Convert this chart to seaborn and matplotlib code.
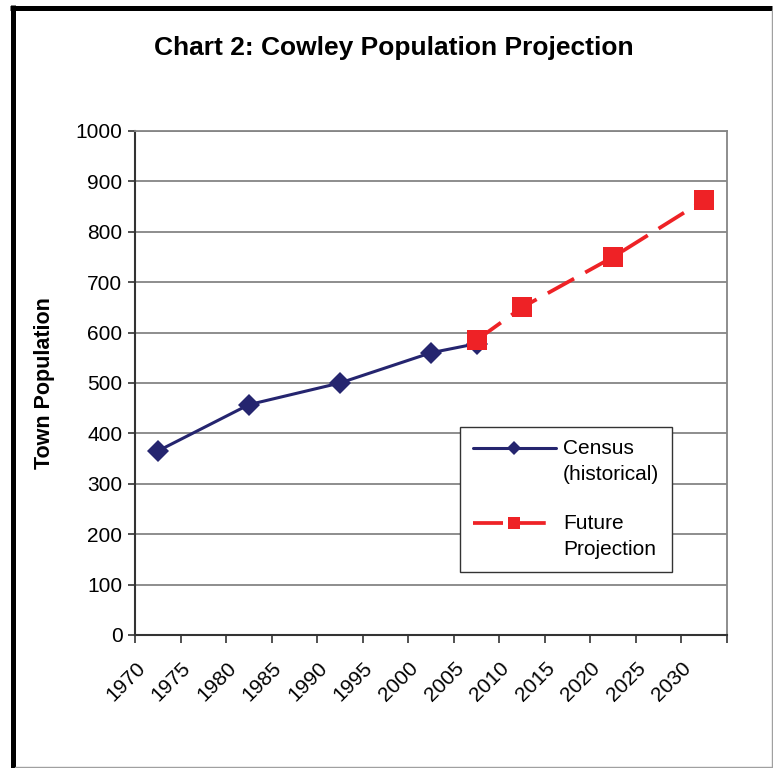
import matplotlib
matplotlib.use('Agg')
import matplotlib.pyplot as plt
import seaborn as sns
import pandas as pd
from matplotlib.lines import Line2D
from matplotlib.legend_handler import HandlerLine2D
from matplotlib.transforms import ScaledTranslation

# Data
years = list(range(1970, 2031, 5))
census_years = [1970, 1980, 1990, 2000, 2005]
census_pop = [365, 457, 500, 560, 578]
future_years = [2005, 2010, 2020, 2030]
future_pop = [585, 650, 750, 863]

census = pd.DataFrame({'Year': census_years, 'Population': census_pop})
future = pd.DataFrame({'Year': future_years, 'Population': future_pop})

sns.set_theme(style='white')
plt.rcParams['font.family'] = ['Liberation Sans', 'DejaVu Sans']
plt.rcParams['text.color'] = 'black'


class RaisedLine(HandlerLine2D):
    # put the legend sample level with the first line of a two-line label
    def create_artists(self, legend, orig_handle, xdescent, ydescent,
                       width, height, fontsize, trans):
        artists = super().create_artists(legend, orig_handle, xdescent,
                                         ydescent, width, height, fontsize,
                                         trans)
        for a in artists:
            a.set_ydata([y + 10 for y in a.get_ydata()])
        return artists


W, H = 773, 768
fig = plt.figure(figsize=(W / 100, H / 100), dpi=100)
ax = fig.add_axes([135 / W, 133 / H, 592 / W, 504 / H])

navy = '#25256F'
red = '#EE2226'

sns.lineplot(data=census, x='Year', y='Population', ax=ax, color=navy,
             linewidth=2.2, marker='D', markersize=11.2, markeredgewidth=0,
             label='Census\n(historical)', zorder=3)
sns.lineplot(data=future, x='Year', y='Population', ax=ax, color=red,
             linewidth=2.7, linestyle=(0, (8, 3.4)), marker='s',
             markersize=14.4, markeredgewidth=0,
             label='Future\nProjection', zorder=4)

# Axes styling
ax.set_ylim(0, 1000)
ax.set_yticks(range(0, 1001, 100))
ax.set_xlim(1967.5, 2032.5)
ax.set_xticks(years)
ax.set_xticklabels([str(y) for y in years], rotation=45, ha='right', va='top')
ax.set_xticks([1967.5 + 5 * i for i in range(14)], minor=True)
ax.set_xlabel('')
ax.set_ylabel('')

ax.yaxis.grid(True, color='#858585', linewidth=1.3)
ax.xaxis.grid(False)
ax.tick_params(axis='y', left=True, direction='out', length=5, width=1.2,
               color='#333333', labelsize=15, pad=4, labelcolor='black')
ax.tick_params(axis='x', which='major', bottom=False, length=0, pad=17,
               labelsize=15, labelcolor='black')
ax.tick_params(axis='x', which='minor', bottom=True, direction='out',
               length=6, width=1.2, color='#333333')

shift = ScaledTranslation(-9 / 100, 0, fig.dpi_scale_trans)
for tick in ax.xaxis.get_major_ticks():
    tick.label1.set_transform(tick.label1.get_transform() + shift)

for side in ['left', 'bottom']:
    ax.spines[side].set_color('#333333')
    ax.spines[side].set_linewidth(1.5)
for side in ['right', 'top']:
    ax.spines[side].set_color('#858585')
    ax.spines[side].set_linewidth(1.3)

leg = ax.legend(loc='upper left', bbox_to_anchor=(0.549, 0.413),
                borderaxespad=0, frameon=True, fancybox=False,
                edgecolor='#333333', framealpha=1, fontsize=15,
                handlelength=4, markerscale=0.6, borderpad=0.6,
                labelspacing=1.45, handletextpad=0.35,
                handler_map={Line2D: RaisedLine()})
leg.get_frame().set_linewidth(1.0)
for t in leg.get_texts():
    t.set_linespacing(1.45)

# Titles
fig.text(394 / W, 1 - 48 / H, 'Chart 2: Cowley Population Projection',
         ha='center', va='center', fontsize=19, fontweight='bold')
fig.text(45 / W, 1 - 383 / H, 'Town Population', rotation=90,
         ha='center', va='center', fontsize=15.5, fontweight='bold')

# Outer frame: heavy black left/top, thin grey right/bottom
fig.add_artist(Line2D([12.5 / W, 12.5 / W], [0, 1 - 5 / H],
                      transform=fig.transFigure, color='black', linewidth=3.6,
                      solid_capstyle='butt'))
fig.add_artist(Line2D([10 / W, 772 / W], [1 - 7.5 / H, 1 - 7.5 / H],
                      transform=fig.transFigure, color='black', linewidth=3.6,
                      solid_capstyle='butt'))
fig.add_artist(Line2D([771.5 / W, 771.5 / W], [0, 1 - 10 / H],
                      transform=fig.transFigure, color='#A0A0A0', linewidth=1.0))
fig.add_artist(Line2D([15 / W, 772 / W], [1.5 / H, 1.5 / H],
                      transform=fig.transFigure, color='#A0A0A0', linewidth=1.0))

fig.savefig('out.png', dpi=100)
